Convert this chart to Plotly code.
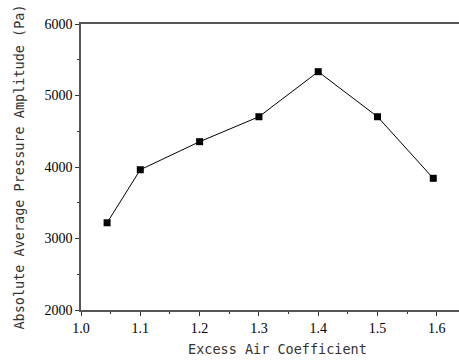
import plotly.graph_objects as go

excess_air = [1.044, 1.10, 1.20, 1.30, 1.40, 1.50, 1.594]
amplitude = [3220, 3962, 4354, 4703, 5333, 4703, 3842]

x_ticks = [1.0, 1.1, 1.2, 1.3, 1.4, 1.5, 1.6]
y_ticks = [2000, 3000, 4000, 5000, 6000]

fig = go.Figure()
fig.add_trace(go.Scatter(
    x=excess_air, y=amplitude, mode="lines+markers",
    line=dict(color="black", width=1),
    marker=dict(symbol="square", size=7, color="black"),
    showlegend=False,
))

tick_font = dict(family="Liberation Serif", size=14, color="black")
title_font = dict(family="DejaVu Sans Mono", size=13.5, color="#333")

fig.update_layout(
    width=459, height=364,
    margin=dict(l=81, r=0, t=24, b=54),
    paper_bgcolor="white", plot_bgcolor="white",
    xaxis=dict(
        range=[1.0, 1.6374], tickvals=x_ticks, ticktext=[f"{v:.1f}" for v in x_ticks],
        ticks="outside", ticklen=4, tickwidth=1, tickcolor="#333",
        minor=dict(dtick=0.05, tick0=1.0, ticks="outside", ticklen=2.5, tickcolor="#333", showgrid=False),
        showline=True, linecolor="#555", linewidth=1.5, mirror=True,
        showgrid=False, zeroline=False, tickfont=tick_font,
    ),
    yaxis=dict(
        range=[2000, 6000], tickvals=y_ticks,
        ticks="outside", ticklen=4, tickwidth=1, tickcolor="#333",
        minor=dict(dtick=500, tick0=2000, ticks="outside", ticklen=2.5, tickcolor="#333", showgrid=False),
        showline=True, linecolor="#555", linewidth=1.5,
        showgrid=False, zeroline=False, tickfont=tick_font,
        title=dict(text="Absolute Average Pressure Amplitude (Pa)", font=title_font, standoff=17),
    ),
    annotations=[dict(
        text="Excess Air Coefficient", xref="paper", yref="paper",
        x=0.52, y=-0.1, xanchor="center", yanchor="top", showarrow=False, font=title_font,
    )],
)

fig.write_html("out.html")
